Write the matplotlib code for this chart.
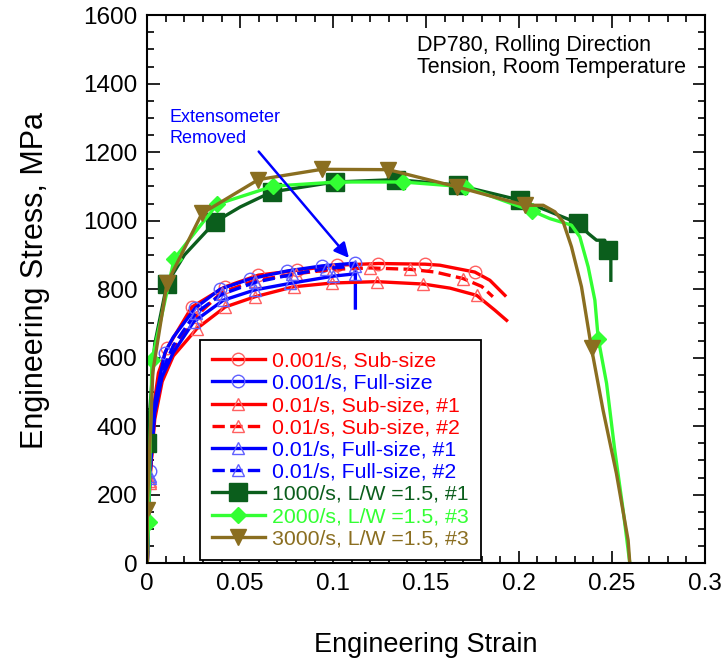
import matplotlib
matplotlib.use("Agg")
import matplotlib.pyplot as plt
from matplotlib.ticker import MultipleLocator

plt.rcParams['font.family'] = ['Liberation Sans', 'DejaVu Sans']

# 0.001/s, Sub-size
red_c_e = [0, 0.0012, 0.003, 0.006, 0.0106, 0.024, 0.0419, 0.0598, 0.0805, 0.102, 0.1244, 0.1495, 0.1575, 0.1763, 0.1844, 0.1925]
red_c_s = [0, 265, 440, 555, 627, 748, 807, 841, 855, 870, 875, 873, 870, 850, 826, 782]
# 0.001/s, Full-size
blue_c_e = [0, 0.0015, 0.004, 0.0095, 0.014, 0.0258, 0.0392, 0.0554, 0.0751, 0.094, 0.112, 0.112]
blue_c_s = [0, 270, 470, 615, 660, 745, 800, 830, 853, 868, 876, 745]
# 0.01/s, Sub-size, #1
red_t1_e = [0, 0.0013, 0.004, 0.008, 0.014, 0.0267, 0.0419, 0.058, 0.0787, 0.0993, 0.1235, 0.1486, 0.163, 0.1773, 0.187, 0.1934]
red_t1_s = [0, 240, 420, 530, 605, 685, 748, 778, 807, 818, 822, 815, 803, 782, 739, 709]
# 0.01/s, Sub-size, #2
red_t2_e = [0, 0.0013, 0.004, 0.008, 0.014, 0.026, 0.04, 0.058, 0.08, 0.1, 0.12, 0.1414, 0.155, 0.17, 0.18, 0.186]
red_t2_s = [0, 235, 440, 550, 625, 720, 790, 825, 845, 858, 862, 858, 850, 831, 808, 778]
# 0.01/s, Full-size, #1
blue_t1_e = [0, 0.0013, 0.004, 0.008, 0.014, 0.025, 0.041, 0.058, 0.0769, 0.1, 0.112]
blue_t1_s = [0, 250, 440, 545, 615, 705, 768, 798, 817, 838, 845]
# 0.01/s, Full-size, #2
blue_t2_e = [0, 0.0013, 0.004, 0.008, 0.014, 0.026, 0.04, 0.058, 0.078, 0.096, 0.112]
blue_t2_s = [0, 255, 455, 560, 635, 730, 785, 820, 843, 860, 868]
# 1000/s
dg_e = [0, 0, 0.004, 0.0106, 0.02, 0.0366, 0.05, 0.067, 0.101, 0.134, 0.167, 0.2005, 0.215, 0.2317, 0.2373, 0.2418, 0.2462, 0.248, 0.2495, 0.2495]
dg_s = [0, 350, 640, 816, 900, 997, 1040, 1084, 1113, 1120, 1104, 1060, 1030, 993, 963, 943, 943, 914, 885, 826]
# 2000/s
lg_e = [0, 0.0007, 0.0025, 0.0145, 0.0376, 0.0679, 0.1023, 0.1374, 0.171, 0.2073, 0.2167, 0.2283, 0.2328, 0.2373, 0.2409, 0.2427, 0.2472, 0.2516, 0.2561, 0.2597]
lg_s = [0, 121, 593, 889, 1048, 1101, 1113, 1113, 1099, 1028, 1006, 987, 953, 865, 768, 656, 525, 330, 155, 0]
# 3000/s
br_e = [0, 0, 0.003, 0.0106, 0.0294, 0.0598, 0.0939, 0.1297, 0.1665, 0.2032, 0.2131, 0.2194, 0.2238, 0.2283, 0.2337, 0.2391, 0.2453, 0.2525, 0.2588, 0.2597]
br_s = [0, 155, 560, 817, 1021, 1120, 1150, 1149, 1099, 1045, 1045, 1026, 997, 924, 807, 627, 447, 262, 67, 0]

RED = '#ff0000'
BLUE = '#0000ff'
DGREEN = '#0b5e1c'
LGREEN = '#33ff33'
BROWN = '#8a6e20'

fig = plt.figure(figsize=(7.22, 6.61), dpi=100)
ax = fig.add_axes([0.204, 0.148, 0.772, 0.829])

lw = 2.4
ax.plot(red_c_e, red_c_s, '-', color=RED, lw=lw, marker='o', ms=9, mfc='none', mec='#ff6060',
        markevery=[4, 5, 6, 7, 8, 9, 10, 11, 13], label='0.001/s, Sub-size')
ax.plot(blue_c_e, blue_c_s, '-', color=BLUE, lw=lw, marker='o', ms=9, mfc='none', mec='#6060ff',
        markevery=[1, 3, 5, 6, 7, 8, 9, 10], label='0.001/s, Full-size')
ax.plot(red_t1_e, red_t1_s, '-', color=RED, lw=lw, marker='^', ms=9, mfc='none', mec='#ff6060',
        markevery=[1, 5, 6, 7, 8, 9, 10, 11, 13], label='0.01/s, Sub-size, #1')
ax.plot(red_t2_e, red_t2_s, '--', color=RED, lw=lw, marker='^', ms=9, mfc='none', mec='#ff6060',
        markevery=[1, 5, 6, 7, 8, 9, 10, 11, 13], label='0.01/s, Sub-size, #2')
ax.plot(blue_t1_e, blue_t1_s, '-', color=BLUE, lw=lw, marker='^', ms=9, mfc='none', mec='#6060ff',
        markevery=[1, 5, 6, 7, 8, 9, 10], label='0.01/s, Full-size, #1')
ax.plot(blue_t2_e, blue_t2_s, '--', color=BLUE, lw=lw, marker='^', ms=9, mfc='none', mec='#6060ff',
        markevery=[1, 5, 6, 7, 8, 9, 10], label='0.01/s, Full-size, #2')
ax.plot(dg_e, dg_s, '-', color=DGREEN, lw=lw, marker='s', ms=13,
        markevery=[1, 3, 5, 7, 8, 9, 10, 11, 13, 17], label='1000/s, L/W =1.5, #1')
ax.plot(lg_e, lg_s, '-', color=LGREEN, lw=lw, marker='D', ms=8,
        markevery=[1, 2, 3, 4, 5, 6, 7, 8, 9, 15], label='2000/s, L/W =1.5, #3')
ax.plot(br_e, br_s, '-', color=BROWN, lw=lw, marker='v', ms=11,
        markevery=[1, 3, 4, 5, 6, 7, 8, 9, 15], label='3000/s, L/W =1.5, #3')

ax.set_xlim(0, 0.3)
ax.set_ylim(0, 1600)
ax.xaxis.set_major_locator(MultipleLocator(0.05))
ax.xaxis.set_minor_locator(MultipleLocator(0.01))
ax.yaxis.set_major_locator(MultipleLocator(200))
ax.yaxis.set_minor_locator(MultipleLocator(50))
ax.set_xticks([0, 0.05, 0.1, 0.15, 0.2, 0.25, 0.3])
ax.set_xticklabels(['0', '0.05', '0.1', '0.15', '0.2', '0.25', '0.3'])
ax.tick_params(which='both', direction='in', top=True, right=True, width=1.2)
ax.tick_params(which='major', length=9, labelsize=17.5, pad=7)
ax.tick_params(which='minor', length=5)
for sp in ax.spines.values():
    sp.set_linewidth(1.5)

ax.set_xlabel('Engineering Strain', fontsize=19.5, labelpad=27)
ax.set_ylabel('Engineering Stress, MPa', fontsize=22, labelpad=24)
ax.yaxis.label.set_y(0.516)

ax.text(0.1452, 1543, 'DP780, Rolling Direction\nTension, Room Temperature',
        fontsize=15.5, va='top', ha='left', linespacing=1.1)
ax.text(0.0122, 1327, 'Extensometer\nRemoved', fontsize=13, color=BLUE,
        va='top', ha='left', linespacing=1.3)
ax.annotate('', xy=(0.1095, 885), xytext=(0.059, 1208),
            arrowprops=dict(arrowstyle='-|>', color=BLUE, lw=1.8, mutation_scale=22))

leg = ax.legend(loc='lower left', bbox_to_anchor=(0.095, 0.006), fontsize=15.3,
                frameon=True, fancybox=False, edgecolor='black', framealpha=1,
                numpoints=1, handlelength=2.5, handletextpad=0.35, labelspacing=0.15,
                borderpad=0.55, borderaxespad=0)
leg.get_frame().set_linewidth(1.3)
for txt, line in zip(leg.get_texts(), leg.get_lines()):
    txt.set_color(line.get_color())

fig.savefig('out.png', dpi=100)
